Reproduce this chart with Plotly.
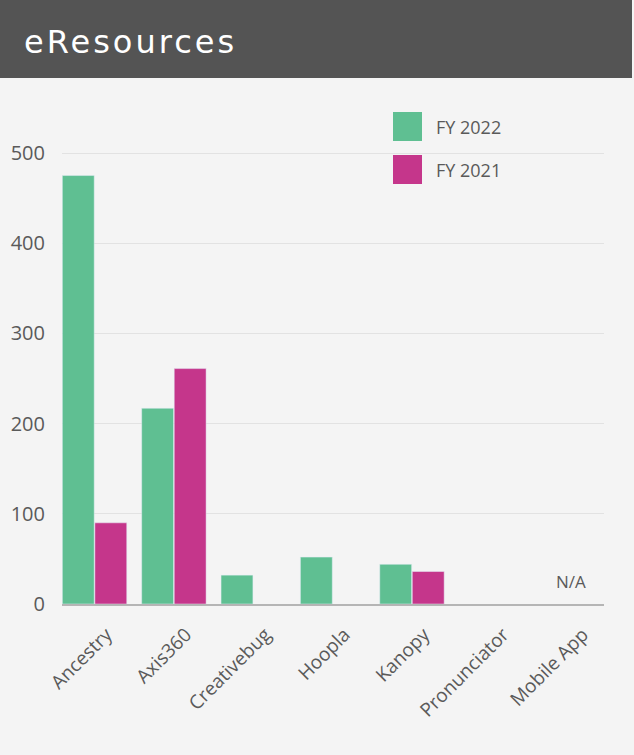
import plotly.graph_objects as go

categories = ["Ancestry", "Axis360", "Creativebug", "Hoopla", "Kanopy", "Pronunciator", "Mobile App"]
series_names = ["FY 2022", "FY 2021"]
fy2022 = [475, 217, 32, 52, 44, None, None]
fy2021 = [90, 261, None, None, 36, None, None]
y_ticks = [0, 100, 200, 300, 400, 500]
na_label = "N/A"
title_text = "eResources"

W, H = 634, 755
L, R, T, B = 62, 30, 100, 151
pw, ph = W - L - R, H - T - B

def px_x(p):
    return (p - L) / pw

def px_y(p):
    return (H - B - p) / ph

green = "#5fbf92"
pink = "#c5368b"
font_fam = "Open Sans"
txt_col = "#5a5a5a"

fig = go.Figure()
fig.add_trace(go.Bar(x=categories, y=fy2022, name=series_names[0], marker_color=green, showlegend=False))
fig.add_trace(go.Bar(x=categories, y=fy2021, name=series_names[1], marker_color=pink, showlegend=False))

ymax = (H - B - T) / 0.902

fig.update_layout(
    width=W, height=H,
    margin=dict(l=L, r=R, t=T, b=B),
    paper_bgcolor="#f4f4f4",
    plot_bgcolor="#f4f4f4",
    barmode="group",
    bargap=0.18,
    bargroupgap=0.02,
    font=dict(family=font_fam, color=txt_col),
    xaxis=dict(
        type="category",
        range=[-0.41, 6.42],
        tickangle=-45,
        tickfont=dict(size=19, color=txt_col),
        showgrid=False,
        showline=True,
        linecolor="#b5b5b5",
        linewidth=2,
        ticks="",
        ticklabelstandoff=10,
        ticklabelshift=12,
    ),
    yaxis=dict(
        range=[0, ymax],
        tickvals=y_ticks,
        tickfont=dict(size=20, color=txt_col),
        showgrid=True,
        gridcolor="#e2e2e2",
        gridwidth=1,
        zeroline=False,
        ticks="",
        ticklabelstandoff=16,
    ),
    shapes=[
        dict(type="rect", xref="paper", yref="paper",
             x0=px_x(0), x1=px_x(W - 2), y0=px_y(78), y1=px_y(0),
             fillcolor="#545454", line=dict(width=0), layer="above"),
        dict(type="rect", xref="paper", yref="paper",
             x0=px_x(393), x1=px_x(422), y0=px_y(141), y1=px_y(112),
             fillcolor=green, line=dict(width=0)),
        dict(type="rect", xref="paper", yref="paper",
             x0=px_x(393), x1=px_x(422), y0=px_y(184), y1=px_y(155),
             fillcolor=pink, line=dict(width=0)),
    ],
    annotations=[
        dict(text='<span style="letter-spacing:3px">' + title_text + "</span>",
             xref="paper", yref="paper", x=px_x(22), y=px_y(42),
             xanchor="left", yanchor="middle", showarrow=False,
             font=dict(family="DejaVu Sans", size=32, color="white")),
        dict(text=series_names[0], xref="paper", yref="paper", x=px_x(434), y=px_y(127),
             xanchor="left", yanchor="middle", showarrow=False,
             font=dict(size=18, color=txt_col)),
        dict(text=series_names[1], xref="paper", yref="paper", x=px_x(434), y=px_y(170),
             xanchor="left", yanchor="middle", showarrow=False,
             font=dict(size=18, color=txt_col)),
        dict(text=na_label, x=categories[-1], y=25, xref="x", yref="y",
             showarrow=False, font=dict(size=17, color=txt_col)),
    ],
)

fig.write_html("out.html")
